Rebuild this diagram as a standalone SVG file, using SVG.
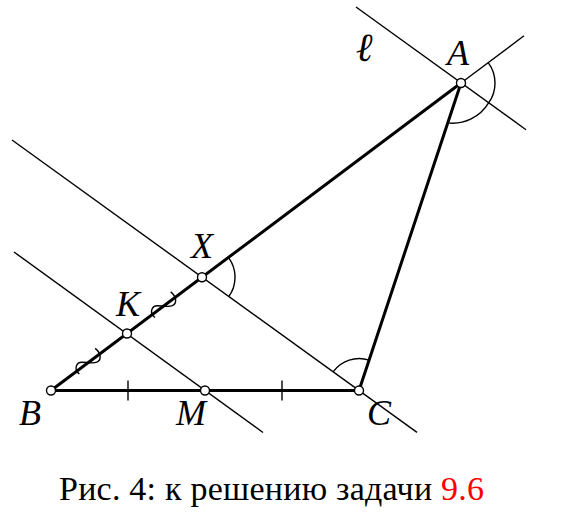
<svg xmlns="http://www.w3.org/2000/svg" width="561" height="515" viewBox="0 0 561 515">
<style>
.thin{stroke:#000;stroke-width:1.4;fill:none}
.thick{stroke:#000;stroke-width:3;fill:none;stroke-linecap:round}
.arc{stroke:#000;stroke-width:1.4;fill:none}
.pt{fill:#fff;stroke:#000;stroke-width:1.4}
.lbl{font-family:"Liberation Serif","DejaVu Serif",serif;font-style:italic;font-size:36px;fill:#000;text-anchor:middle}
.cap{font-family:"Liberation Serif","DejaVu Serif",serif;font-size:34px;fill:#000}
</style>
<defs>
<path id="tilde" d="M -15,4 C -17,-4 -10,-7 -6,-4 C -2,-1 2,4 6,5 C 11,6 15,1 13,-7" class="arc"/>
</defs>
<g id="connectors">
<line class="thin" x1="356" y1="7" x2="526" y2="129.7"/>
<line class="thin" x1="461" y1="83" x2="524" y2="35.8"/>
<line class="thin" x1="12" y1="140" x2="417" y2="432.4"/>
<line class="thin" x1="14" y1="252" x2="263" y2="432.5"/>
<line class="thick" x1="51" y1="390.5" x2="461" y2="83"/>
<line class="thick" x1="461" y1="83" x2="359" y2="390.5"/>
<line class="thick" x1="51" y1="390.5" x2="359" y2="390.5"/>
<line class="thin" x1="128" y1="380.5" x2="128" y2="400.5"/>
<line class="thin" x1="282" y1="380.5" x2="282" y2="400.5"/>
<use href="#tilde" transform="translate(89,361.8) rotate(-36.87)"/>
<use href="#tilde" transform="translate(164.5,305.3) rotate(-36.87)"/>
<path class="arc" d="M 228.4,257.4 A 33 33 0 0 1 228.8,296.5"/>
<path class="arc" d="M 333.1,371.8 A 32 32 0 0 1 369.1,360.1"/>
<path class="arc" d="M 488.2,62.6 A 34 34 0 0 1 488.6,102.9 A 42 42 0 0 1 447.8,122.9"/>
</g>
<g id="node-A"><circle class="pt" cx="461" cy="83" r="4.5"/><text class="lbl" x="458" y="65">A</text></g>
<g id="node-X"><circle class="pt" cx="202" cy="277.2" r="4.5"/><text class="lbl" x="202" y="258">X</text></g>
<g id="node-K"><circle class="pt" cx="127" cy="333.5" r="4.5"/><text class="lbl" x="128" y="316">K</text></g>
<g id="node-B"><circle class="pt" cx="51" cy="390.5" r="4.5"/><text class="lbl" x="30" y="425">B</text></g>
<g id="node-M"><circle class="pt" cx="205" cy="390.5" r="4.5"/><text class="lbl" x="191" y="425">M</text></g>
<g id="node-C"><circle class="pt" cx="359" cy="390.5" r="4.5"/><text class="lbl" x="379" y="425">C</text></g>
<g id="label-l"><text class="lbl" x="364" y="61" style="font-size:40px">ℓ</text></g>
<text class="cap" x="59" y="500" textLength="425" lengthAdjust="spacing">Рис. 4: к решению задачи <tspan fill="#ff0000">9.6</tspan></text>
</svg>
